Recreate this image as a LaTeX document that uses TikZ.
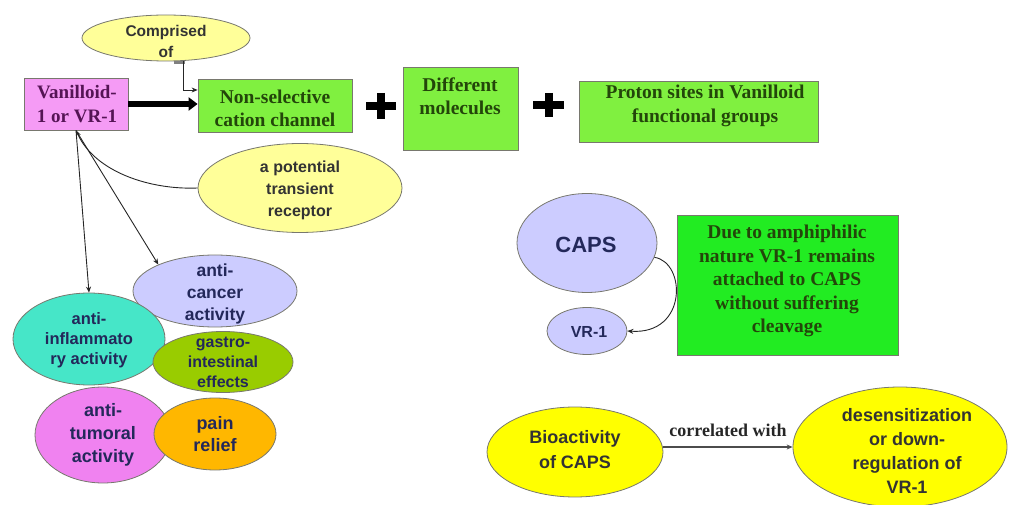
\documentclass[tikz,border=0pt]{standalone}
\usepackage{fontspec}
\setmainfont{Liberation Serif}
\setsansfont{Liberation Sans}
\usetikzlibrary{shapes.geometric,arrows.meta}
\definecolor{lyellow}{RGB}{255,255,153}
\definecolor{vpink}{RGB}{245,155,245}
\definecolor{lgreen}{RGB}{128,240,64}
\definecolor{bgreen}{RGB}{34,236,34}
\definecolor{lavender}{RGB}{204,204,255}
\definecolor{tealc}{RGB}{70,230,200}
\definecolor{olivec}{RGB}{153,204,0}
\definecolor{violetc}{RGB}{240,130,240}
\definecolor{orangec}{RGB}{255,183,0}
\definecolor{yellowc}{RGB}{255,255,0}
\definecolor{navy}{RGB}{35,40,90}
\definecolor{vtext}{RGB}{85,20,85}
\definecolor{gtext}{RGB}{35,70,10}
\definecolor{edgegray}{RGB}{120,120,110}
\newcommand\fsz[2]{\fontsize{#1}{#2}\selectfont}
\begin{document}
\begin{tikzpicture}[x=1pt,y=-1pt,
  shp/.style={draw=edgegray, line width=0.8pt, inner sep=0pt},
  ell/.style={shp, ellipse},
  rbox/.style={shp, rectangle},
  stxt/.style={inner sep=0pt, align=center, text=navy},
  rtxt/.style={inner sep=0pt, align=center, text=gtext},
  conn/.style={draw=black!85, line width=0.9pt},
  tip/.style={-{Stealth[length=6pt,width=5pt]}},
  plusbar/.style={line width=8pt, black},
]
\useasboundingbox (0,0) rectangle (1010,505);

% top row
\node[ell, fill=lyellow, minimum width=168, minimum height=46] (comp) at (166,38) {};
\node[stxt, text=black!80, font=\sffamily\bfseries\fsz{15.5}{21}] (compT) at (166,41) {Comprised\\of};

\node[rbox, fill=vpink, minimum width=104, minimum height=52] (van) at (76,104) {};
\node[rtxt, text=vtext, font=\bfseries\fsz{19}{24}] (vanT) at (77,104) {Vanilloid-\\1 or VR-1};

\node[rbox, fill=lgreen, minimum width=154, minimum height=53] (nsc) at (275,105.5) {};
\node[rtxt, font=\bfseries\fsz{19.5}{23}] (nscT) at (275,108) {Non-selective\\cation channel};

\draw[plusbar] (366,106) -- (396,106) (381,93) -- (381,119);

\node[rbox, fill=lgreen, minimum width=115, minimum height=83] (dif) at (460.5,108.5) {};
\node[rtxt, font=\bfseries\fsz{19.5}{23}] (difT) at (460,96) {Different\\molecules};

\draw[plusbar] (533,105) -- (564,105) (548.5,93) -- (548.5,117);

\node[rbox, fill=lgreen, minimum width=239, minimum height=61] (pro) at (698.5,111.5) {};
\node[rtxt, font=\bfseries\fsz{19.5}{24}] (proT) at (705,106) {Proton sites in Vanilloid\\functional groups};

\node[ell, fill=lyellow, minimum width=204, minimum height=89] (ptr) at (300,188) {};
\node[stxt, text=black!80, font=\sffamily\bfseries\fsz{16}{22}] (ptrT) at (300,190) {a potential\\transient\\receptor};

% bottom-left ellipses
\node[ell, fill=lavender, minimum width=164, minimum height=72] (acn) at (215,291) {};
\node[stxt, font=\sffamily\bfseries\fsz{17.5}{22}] (acnT) at (215,294) {anti-\\cancer\\activity};

\node[ell, fill=tealc, minimum width=152, minimum height=92] (ain) at (89,339) {};
\node[stxt, font=\sffamily\bfseries\fsz{16.5}{20}] (ainT) at (89,340) {anti-\\inflammato\\ry activity};

\node[ell, fill=olivec, minimum width=140, minimum height=61] (gas) at (223,362) {};
\node[stxt, font=\sffamily\bfseries\fsz{16}{20}] (gasT) at (223,362) {gastro-\\intestinal\\effects};

\node[ell, fill=violetc, minimum width=136, minimum height=96] (atm) at (103,435) {};
\node[stxt, font=\sffamily\bfseries\fsz{18}{23}] (atmT) at (103,435) {anti-\\tumoral\\activity};

\node[ell, fill=orangec, minimum width=122, minimum height=72] (pai) at (215,434) {};
\node[stxt, font=\sffamily\bfseries\fsz{18}{22}] (paiT) at (215,434) {pain\\relief};

% right middle
\node[ell, fill=lavender, minimum width=140, minimum height=99] (caps) at (587,243) {};
\node[stxt, font=\sffamily\bfseries\fsz{22}{26}] (capsT) at (586,245) {CAPS};

\node[ell, fill=lavender, minimum width=80, minimum height=47] (vr) at (587,331) {};
\node[stxt, font=\sffamily\bfseries\fsz{16}{20}] (vrT) at (589,332) {VR-1};

\node[rbox, fill=bgreen, minimum width=221, minimum height=140] (gbox) at (787.5,285) {};
\node[rtxt, font=\bfseries\fsz{19.5}{23.5}] (gboxT) at (787,281) {Due to amphiphilic\\nature VR-1 remains\\attached to CAPS\\without suffering\\cleavage};

% bottom right
\node[ell, fill=yellowc, minimum width=176, minimum height=90] (bio) at (575,452) {};
\node[stxt, text=black!80, font=\sffamily\bfseries\fsz{18}{25}] (bioT) at (575,449.5) {Bioactivity\\of CAPS};

\node[ell, fill=yellowc, minimum width=214, minimum height=120] (des) at (900,447) {};
\node[stxt, text=black!80, font=\sffamily\bfseries\fsz{18}{24}] (desT) at (907,451) {desensitization\\or down-\\regulation of\\VR-1};

% connectors
\draw[line width=5.5pt, -{Triangle[length=9pt,width=13pt]}] (van.east) -- (van.east -| nsc.west);
\coordinate (compB) at (183,61);
\draw[gray, line width=3pt] (174,62.5) -- (185,62.5);
\draw[conn, line width=0.8pt, tip] (compB) |- ([yshift=15.5pt]nsc.west);
\draw[conn, tip] (van.south) -- (ain.north);
\draw[conn, tip] (van.south) -- (acn.155);
\draw[conn, {Stealth[length=6pt,width=5pt]}-] (van.south) .. controls (95,172) and (150,190) .. (ptr.west);
\draw[conn, tip] (caps.-12) .. controls (686,262) and (688,335) .. (vr.east);
\draw[draw=black!70, line width=1.3pt, tip] ([yshift=5pt]bio.east) -- (des.west)
  node[midway, above=10pt, inner sep=0pt, text=black!85, font=\bfseries\fsz{18}{22}] (corr) {correlated with};
\end{tikzpicture}
\end{document}
